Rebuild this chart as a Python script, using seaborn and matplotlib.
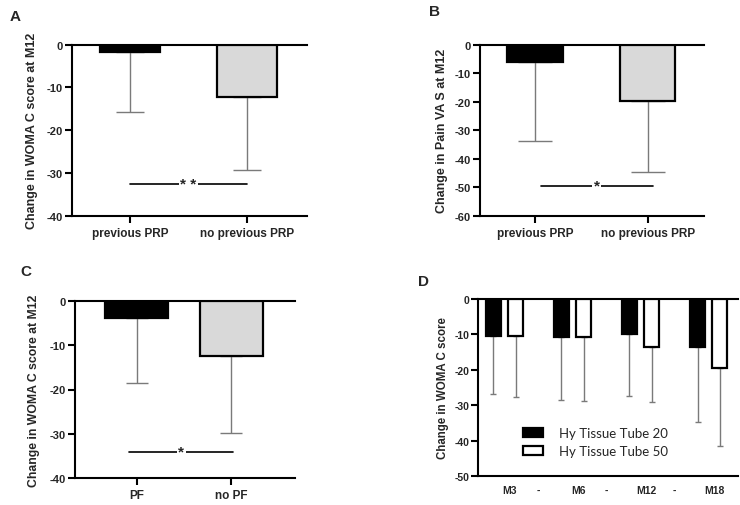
import numpy as np
import pandas as pd
import matplotlib
matplotlib.use("Agg")
import matplotlib.pyplot as plt
import seaborn as sns

# ---------------- data ----------------
a_groups = ["previous PRP", "no previous PRP"]
a_means = [-1.8, -12.3]
a_sd = [14.0, 16.9]

b_groups = ["previous PRP", "no previous PRP"]
b_means = [-6.0, -19.9]
b_sd = [27.7, 24.7]

c_groups = ["PF", "no PF"]
c_means = [-3.9, -12.5]
c_sd = [14.7, 17.2]

d_times = ["M3", "M6", "M12", "M18"]
d_series = ["Hy Tissue Tube 20", "Hy Tissue Tube 50"]
d_tube20_means = [-10.4, -10.9, -9.9, -13.5]
d_tube20_sd = [16.5, 17.5, 17.5, 21.3]
d_tube50_means = [-10.4, -10.9, -13.7, -19.4]
d_tube50_sd = [17.4, 17.8, 15.3, 22.1]

# ---------------- style ----------------
sns.set_style("ticks")
plt.rcParams["font.family"] = ["Liberation Sans", "DejaVu Sans"]

W, H = 740, 506
fig = plt.figure(figsize=(W / 100, H / 100), dpi=100)

def px_axes(left, top, right, bottom):
    return fig.add_axes([left / W, 1 - bottom / H, (right - left) / W, (bottom - top) / H])

SPINE_LW = 1.5
ERR_COLOR = "#7a7a7a"

def style_axes(ax, ylim, yticks, ylabel, label_offset_px, width_px, label_size, tick_size,
               xticks_on=True):
    ax.set_ylim(*ylim)
    ax.set_yticks(yticks)
    ax.set_yticklabels([str(t) for t in yticks], fontweight="bold", fontsize=tick_size)
    for s in ["left", "bottom", "top"]:
        ax.spines[s].set_linewidth(SPINE_LW)
        ax.spines[s].set_color("black")
    ax.spines["right"].set_visible(False)
    ax.tick_params(axis="y", direction="out", length=5, width=SPINE_LW, pad=1.5, color="black")
    if xticks_on:
        ax.tick_params(axis="x", direction="out", length=5, width=SPINE_LW, pad=3, color="black")
    else:
        ax.tick_params(axis="x", length=0, pad=6)
    ax.set_xlabel("")
    ax.set_ylabel(ylabel, fontweight="bold", fontsize=label_size)
    ax.yaxis.set_label_coords(-label_offset_px / width_px, 0.5)

def simple_panel(ax, groups, means, sd, width, capsize, xlim, ylim, yticks, ylabel,
                 label_offset_px, width_px, label_size, sig_x, sig_y, sig_text):
    df = pd.DataFrame({"group": groups, "value": means})
    sns.barplot(data=df, x="group", y="value", hue="group", palette=["black", "#d9d9d9"],
                edgecolor="black", linewidth=1.6, width=width, errorbar=None,
                legend=False, ax=ax, zorder=3)
    xs = np.arange(len(groups))
    ax.errorbar(xs, means, yerr=[sd, np.zeros(len(sd))], fmt="none", ecolor=ERR_COLOR,
                elinewidth=1.0, capsize=capsize, capthick=1.0, zorder=1)
    ax.set_xlim(*xlim)
    ax.set_xticks(xs)
    ax.set_xticklabels(groups, fontweight="bold", fontsize=8.5)
    style_axes(ax, ylim, yticks, ylabel, label_offset_px, width_px, label_size, 8)
    ax.plot(sig_x, [sig_y, sig_y], color="black", lw=1.2, zorder=4)
    ax.text(np.mean(sig_x), sig_y, sig_text, ha="center", va="center", fontsize=11,
            fontweight="bold", zorder=5,
            bbox=dict(boxstyle="square,pad=0.1", fc="white", ec="none"))

# Panel A
axA = px_axes(72, 45.7, 307, 216.7)
simple_panel(axA, a_groups, a_means, a_sd, 0.507, 10, (-0.496, 1.513), (-40, 0),
             [0, -10, -20, -30, -40], "Change in WOMA C score at M12", 34, 235, 9,
             [0.0, 1.0], -32.7, "* *")

# Panel B
axB = px_axes(480, 45.7, 704, 216.7)
simple_panel(axB, b_groups, b_means, b_sd, 0.49, 12, (-0.488, 1.5), (-60, 0),
             [0, -10, -20, -30, -40, -50, -60], "Change in Pain VA S at M12", 32, 224, 9,
             [0.05, 1.05], -49.5, "*")

# Panel C
axC = px_axes(74.7, 301.7, 295, 479.3)
simple_panel(axC, c_groups, c_means, c_sd, 0.66, 8, (-0.655, 1.673), (-40, 0),
             [0, -10, -20, -30, -40], "Change in WOMA C score at M12", 35, 220.3, 8.8,
             [-0.08, 1.02], -34, "*")

# Panel D
axD = px_axes(478.3, 299.7, 738, 477.3)
dfD = pd.DataFrame({
    "time": d_times * 2,
    "series": [d_series[0]] * 4 + [d_series[1]] * 4,
    "value": d_tube20_means + d_tube50_means,
})
d_width = 0.658
sns.barplot(data=dfD, x="time", y="value", hue="series", palette=["black", "white"],
            edgecolor="black", linewidth=1.6, width=d_width, gap=0.33, errorbar=None,
            ax=axD, zorder=3)
xs = np.arange(len(d_times))
off = d_width / 4
axD.errorbar(xs - off, d_tube20_means, yerr=[d_tube20_sd, np.zeros(4)], fmt="none",
             ecolor=ERR_COLOR, elinewidth=1.0, capsize=2.5, capthick=1.0, zorder=1)
axD.errorbar(xs + off, d_tube50_means, yerr=[d_tube50_sd, np.zeros(4)], fmt="none",
             ecolor=ERR_COLOR, elinewidth=1.0, capsize=2.5, capthick=1.0, zorder=1)
axD.set_xlim(-0.385, 3.43)
tick_pos = []
tick_lab = []
for i, t in enumerate(d_times):
    tick_pos.append(i + 0.08)
    tick_lab.append(t)
    if i < len(d_times) - 1:
        tick_pos.append(i + 0.5)
        tick_lab.append("-")
axD.set_xticks(tick_pos)
axD.set_xticklabels(tick_lab, fontweight="bold", fontsize=7.5)
style_axes(axD, (-50, 0), [0, -10, -20, -30, -40, -50], "Change in WOMA C score", 29, 259.7,
           8.3, 7.5, xticks_on=False)
axD.legend(loc="upper left", bbox_to_anchor=(523 / W, 1 - 428 / H), bbox_transform=fig.transFigure,
           frameon=False, borderpad=0, borderaxespad=0, handlelength=1.55, handleheight=0.72,
           handletextpad=1.15, labelspacing=0.45, prop={"family": "Lato", "size": 9.5})

# Panel letters
fig.text(10 / W, 1 - 10 / H, "A", fontsize=11, fontweight="bold", va="top", ha="left")
fig.text(429 / W, 1 - 5 / H, "B", fontsize=11, fontweight="bold", va="top", ha="left")
fig.text(20 / W, 1 - 265 / H, "C", fontsize=11, fontweight="bold", va="top", ha="left")
fig.text(418 / W, 1 - 275 / H, "D", fontsize=11, fontweight="bold", va="top", ha="left")

fig.savefig("out.png", dpi=100)
